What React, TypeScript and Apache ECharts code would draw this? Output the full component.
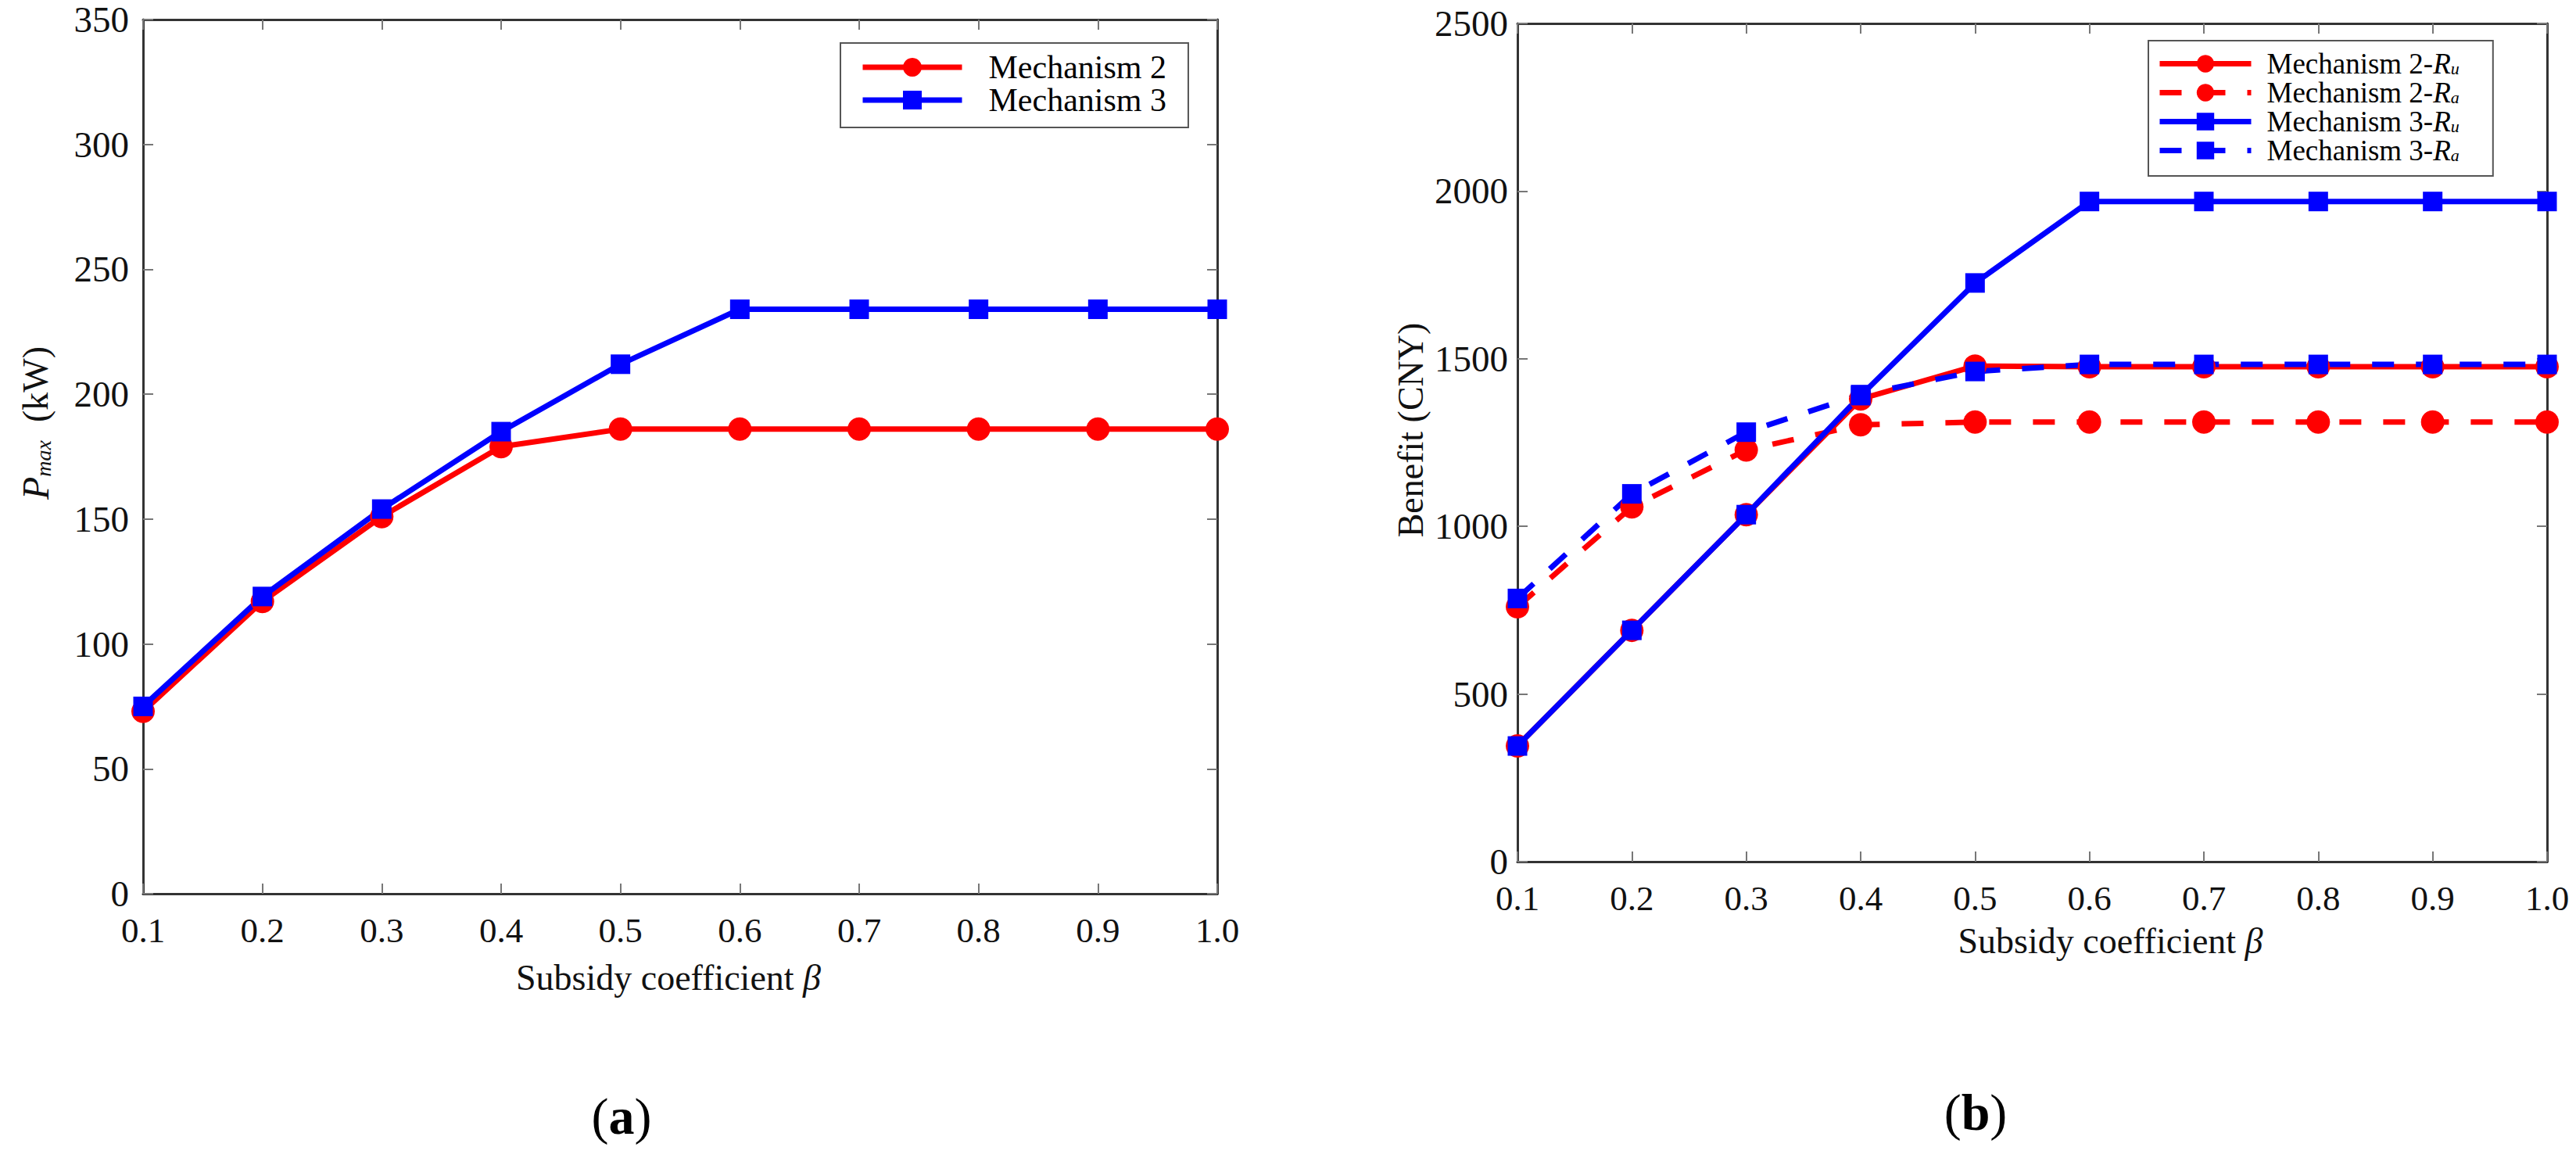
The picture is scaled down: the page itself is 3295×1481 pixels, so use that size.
import * as echarts from "echarts";
import { useEffect, useRef } from "react";

// subsidy coefficient β, shared by both panels
const betaLabels = ["0.1", "0.2", "0.3", "0.4", "0.5", "0.6", "0.7", "0.8", "0.9", "1.0"];

// (a) P_max in kW
const pmaxMech2 = [73, 117, 151, 179, 186, 186, 186, 186, 186, 186];
const pmaxMech3 = [75, 119, 154, 185, 212, 234, 234, 234, 234, 234];

// (b) benefit in CNY
const benefitMech2Ru = [345, 690, 1035, 1380, 1478, 1476, 1476, 1476, 1476, 1476];
const benefitMech2Ra = [760, 1058, 1228, 1303, 1311, 1311, 1311, 1311, 1311, 1311];
const benefitMech3Ru = [345, 690, 1035, 1390, 1726, 1969, 1969, 1969, 1969, 1969];
const benefitMech3Ra = [785, 1097, 1281, 1393, 1462, 1483, 1483, 1483, 1483, 1483];

const FONT = "'Liberation Serif', 'Times New Roman', serif";
const RED = "#ff0000";
const BLUE = "#0000ff";

const boxLine = { show: true, onZero: false, lineStyle: { color: "#333", width: 3 } };
const innerTick = { show: true, inside: true, length: 13, lineStyle: { color: "#777", width: 2 } };

function xPair(gridIndex: number, namePad: number[], nameGap: number) {
  return [
    {
      type: "category" as const,
      gridIndex,
      data: betaLabels,
      boundaryGap: false,
      position: "bottom" as const,
      axisLine: boxLine,
      axisTick: { ...innerTick, alignWithLabel: true },
      axisLabel: { color: "#111", fontFamily: FONT, fontSize: 45, margin: 24 },
      name: "{n|Subsidy coefficient }{i|β}",
      nameLocation: "middle" as const,
      nameGap,
      nameTextStyle: {
        color: "#111",
        fontFamily: FONT,
        fontSize: 46,
        padding: namePad,
        rich: {
          n: { fontFamily: FONT, fontSize: 46, color: "#111" },
          i: { fontFamily: FONT, fontSize: 46, fontStyle: "italic", color: "#111" },
        },
      },
      splitLine: { show: false },
    },
    {
      type: "category" as const,
      gridIndex,
      data: betaLabels,
      boundaryGap: false,
      position: "top" as const,
      axisLine: boxLine,
      axisTick: innerTick,
      axisLabel: { show: false },
      splitLine: { show: false },
    },
  ];
}

function yPair(gridIndex: number, max: number, interval: number, name: string, nameRich: any, namePad: number[], labelMargin: number) {
  return [
    {
      type: "value" as const,
      gridIndex,
      min: 0,
      max,
      interval,
      position: "left" as const,
      axisLine: boxLine,
      axisTick: innerTick,
      axisLabel: {
        color: "#111",
        fontFamily: FONT,
        fontSize: 47,
        margin: labelMargin,
        formatter: (v: number) => String(v),
      },
      splitLine: { show: false },
      name,
      nameLocation: "middle" as const,
      nameGap: 114,
      nameTextStyle: { color: "#111", fontFamily: FONT, fontSize: 46, padding: namePad, rich: nameRich },
    },
    {
      type: "value" as const,
      gridIndex,
      min: 0,
      max,
      interval,
      position: "right" as const,
      axisLine: boxLine,
      axisTick: innerTick,
      axisLabel: { show: false },
      splitLine: { show: false },
    },
  ];
}

function lineSeries(name: string, data: number[], xi: number, yi: number, color: string, circle: boolean, dashed: boolean) {
  return {
    name,
    type: "line" as const,
    xAxisIndex: xi,
    yAxisIndex: yi,
    data,
    symbol: circle ? "circle" : "rect",
    symbolSize: circle ? 30 : 25,
    showAllSymbol: true,
    lineStyle: { color, width: 7, type: dashed ? [28, 28] : "solid" },
    itemStyle: { color },
    emphasis: { disabled: true },
  };
}

const subRich = {
  i: { fontFamily: FONT, fontSize: 37, fontStyle: "italic", color: "#000" },
  s: { fontFamily: FONT, fontSize: 22, fontStyle: "italic", color: "#000", verticalAlign: "bottom", lineHeight: 26 },
};

export default function App() {
  const chartRef = useRef<HTMLDivElement | null>(null);

  useEffect(() => {
    if (!chartRef.current) return;
    const chart = echarts.init(chartRef.current, undefined, { renderer: "svg" });

    chart.setOption({
      animation: false,
      backgroundColor: "#fff",
      grid: [
        { left: 183, top: 25, width: 1374, height: 1118 },
        { left: 1941, top: 30, width: 1317, height: 1072 },
      ],
      xAxis: [...xPair(0, [0, 30, 0, 0], 84), ...xPair(1, [0, 0, 0, 200], 78)],
      yAxis: [
        ...yPair(
          0,
          350,
          50,
          "{i|P}{s|max}{n|  (kW)}",
          {
            i: { fontFamily: FONT, fontSize: 48, fontStyle: "italic", color: "#111" },
            s: { fontFamily: FONT, fontSize: 28, fontStyle: "italic", color: "#111", verticalAlign: "bottom", lineHeight: 34 },
            n: { fontFamily: FONT, fontSize: 46, color: "#111" },
          },
          [0, 0, 0, 86],
          18
        ),
        ...yPair(1, 2500, 500, "Benefit (CNY)", undefined, [0, 0, 0, 32], 12),
      ],
      legend: [
        {
          data: ["Mechanism 2", "Mechanism 3"],
          selectedMode: false,
          orient: "vertical",
          left: 1075,
          top: 55,
          itemWidth: 127,
          itemHeight: 30,
          itemGap: 0,
          padding: [10, 28, 14, 25],
          borderColor: "#555",
          borderWidth: 2,
          borderRadius: 0,
          backgroundColor: "#fff",
          lineStyle: { width: 7 },
          textStyle: { fontFamily: FONT, fontSize: 42, color: "#000", padding: [0, 0, 0, 29] },
        },
        {
          data: ["Mechanism 2-Ru", "Mechanism 2-Ra", "Mechanism 3-Ru", "Mechanism 3-Ra"],
          selectedMode: false,
          orient: "vertical",
          left: 2748,
          top: 52,
          itemWidth: 117,
          itemHeight: 28,
          itemGap: 0,
          padding: [11, 43, 14, 11],
          borderColor: "#555",
          borderWidth: 2,
          borderRadius: 0,
          backgroundColor: "#fff",
          lineStyle: { width: 7 },
          formatter: (name: string) => name.replace(/-R(\w)$/, "-{i|R}{s|$1}"),
          textStyle: { fontFamily: FONT, fontSize: 37, lineHeight: 33, color: "#000", padding: [0, 0, 0, 15], rich: subRich },
        },
      ],
      graphic: [
        {
          type: "text",
          x: 795,
          y: 1427,
          style: {
            text: "{p|(}{b|a}{p|)}",
            align: "center",
            verticalAlign: "middle",
            fontFamily: FONT,
            fontSize: 66,
            fill: "#000",
            rich: {
              p: { fontFamily: FONT, fontSize: 66, color: "#000" },
              b: { fontFamily: FONT, fontSize: 66, fontWeight: "bold", color: "#000" },
            },
          },
        },
        {
          type: "text",
          x: 2527,
          y: 1422,
          style: {
            text: "{p|(}{b|b}{p|)}",
            align: "center",
            verticalAlign: "middle",
            fontFamily: FONT,
            fontSize: 66,
            fill: "#000",
            rich: {
              p: { fontFamily: FONT, fontSize: 66, color: "#000" },
              b: { fontFamily: FONT, fontSize: 66, fontWeight: "bold", color: "#000" },
            },
          },
        },
      ],
      series: [
        lineSeries("Mechanism 2", pmaxMech2, 0, 0, RED, true, false),
        lineSeries("Mechanism 3", pmaxMech3, 0, 0, BLUE, false, false),
        lineSeries("Mechanism 2-Ru", benefitMech2Ru, 2, 2, RED, true, false),
        lineSeries("Mechanism 2-Ra", benefitMech2Ra, 2, 2, RED, true, true),
        lineSeries("Mechanism 3-Ru", benefitMech3Ru, 2, 2, BLUE, false, false),
        lineSeries("Mechanism 3-Ra", benefitMech3Ra, 2, 2, BLUE, false, true),
      ],
    });

    const handleResize = () => chart.resize();
    window.addEventListener("resize", handleResize);
    return () => {
      window.removeEventListener("resize", handleResize);
      chart.dispose();
    };
  }, []);

  return (
    <div
      ref={chartRef}
      style={{ position: "fixed", left: 0, top: 0, width: 3295, height: 1481, background: "#fff" }}
    />
  );
}
